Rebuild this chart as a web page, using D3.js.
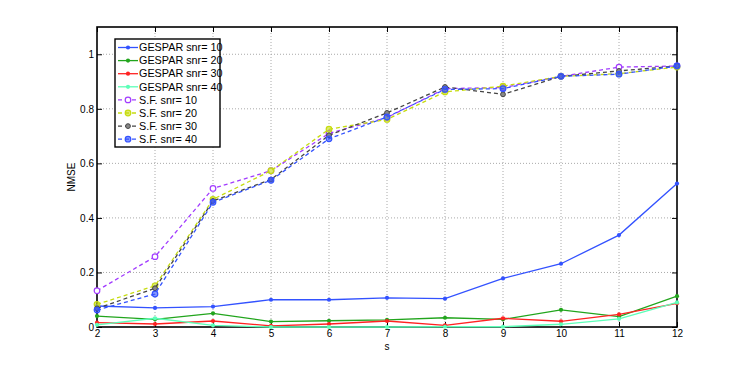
<!DOCTYPE html>
<html>
<head>
<meta charset="utf-8">
<script src="https://cdn.jsdelivr.net/npm/d3@7"></script>
<style>
body { margin: 0; background: #fff; }
text { font-family: "Liberation Sans", Arial, sans-serif; }
</style>
</head>
<body>
<script>
var sValues = [2, 3, 4, 5, 6, 7, 8, 9, 10, 11, 12];
var seriesNames = ["GESPAR snr= 10", "GESPAR snr= 20", "GESPAR snr= 30", "GESPAR snr= 40",
                   "S.F. snr= 10", "S.F. snr= 20", "S.F. snr= 30", "S.F. snr= 40"];
var gespar10 = [0.077, 0.070, 0.075, 0.100, 0.100, 0.107, 0.104, 0.178, 0.232, 0.337, 0.526];
var gespar20 = [0.040, 0.028, 0.050, 0.020, 0.023, 0.026, 0.034, 0.028, 0.063, 0.038, 0.113];
var gespar30 = [0.016, 0.011, 0.022, 0.004, 0.011, 0.022, 0.006, 0.032, 0.021, 0.046, 0.087];
var gespar40 = [0.008, 0.032, 0.006, 0.000, 0.000, 0.000, 0.001, 0.001, 0.010, 0.030, 0.090];
var sf10 = [0.133, 0.258, 0.508, 0.573, 0.710, 0.768, 0.874, 0.878, 0.919, 0.953, 0.957];
var sf20 = [0.083, 0.151, 0.468, 0.573, 0.725, 0.761, 0.862, 0.883, 0.919, 0.929, 0.953];
var sf30 = [0.068, 0.142, 0.462, 0.541, 0.703, 0.785, 0.880, 0.853, 0.919, 0.939, 0.957];
var sf40 = [0.062, 0.121, 0.457, 0.538, 0.690, 0.770, 0.871, 0.874, 0.919, 0.927, 0.957];
var yTicks = [0, 0.2, 0.4, 0.6, 0.8, 1];

var series = [
  {name: seriesNames[0], values: gespar10, color: "#3352ff", dash: null, marker: "dot"},
  {name: seriesNames[1], values: gespar20, color: "#22a51d", dash: null, marker: "dot"},
  {name: seriesNames[2], values: gespar30, color: "#ff2222", dash: null, marker: "dot"},
  {name: seriesNames[3], values: gespar40, color: "#5cffb8", dash: null, marker: "dot"},
  {name: seriesNames[4], values: sf10, color: "#a23cff", dash: "4,3", marker: "open"},
  {name: seriesNames[5], values: sf20, color: "#c6dc10", dash: "4,3", marker: "ring"},
  {name: seriesNames[6], values: sf30, color: "#444444", dash: "4,3", marker: "small"},
  {name: seriesNames[7], values: sf40, color: "#3352ff", dash: "4,3", marker: "ring"}
];

var margin = {top: 27, right: 70, bottom: 42, left: 97},
    width = 747 - margin.left - margin.right,
    height = 369 - margin.top - margin.bottom;

var x = d3.scaleLinear().domain([2, 12]).range([0, width]),
    y = d3.scaleLinear().domain([0, 1.1]).range([height, 0]);

var svg = d3.select("body").append("svg")
    .attr("width", 747)
    .attr("height", 369);
var g = svg.append("g").attr("transform", "translate(" + margin.left + "," + margin.top + ")");

// dotted grid
g.selectAll(".vgrid").data(sValues.slice(1, -1)).enter().append("line")
    .attr("x1", function(d) { return x(d); }).attr("x2", function(d) { return x(d); })
    .attr("y1", 0).attr("y2", height)
    .attr("stroke", "#aaa").attr("stroke-width", 1).attr("stroke-dasharray", "1,2");
g.selectAll(".hgrid").data(yTicks.slice(1)).enter().append("line")
    .attr("y1", function(d) { return y(d); }).attr("y2", function(d) { return y(d); })
    .attr("x1", 0).attr("x2", width)
    .attr("stroke", "#aaa").attr("stroke-width", 1).attr("stroke-dasharray", "1,2");

// axes with inward ticks
g.append("g").attr("transform", "translate(0," + height + ")")
    .call(d3.axisBottom(x).tickValues(sValues).tickFormat(d3.format("d")).tickSizeInner(-5).tickSizeOuter(0).tickPadding(3));
g.append("g")
    .call(d3.axisLeft(y).tickValues(yTicks).tickFormat(function(d) { return d === 0 || d === 1 ? d : d3.format(".1f")(d); }).tickSizeInner(-5).tickSizeOuter(0).tickPadding(3));
g.append("g")
    .call(d3.axisTop(x).tickValues(sValues).tickFormat("").tickSizeInner(-5).tickSizeOuter(0));
g.append("g").attr("transform", "translate(" + width + ",0)")
    .call(d3.axisRight(y).tickValues(yTicks).tickFormat("").tickSizeInner(-5).tickSizeOuter(0));
g.selectAll(".domain").remove();
g.selectAll(".tick line").attr("stroke", "#000");
g.selectAll(".tick text").style("font-size", "10px").attr("fill", "#000");

g.append("rect")
    .attr("width", width).attr("height", height)
    .attr("fill", "none").attr("stroke", "#000").attr("stroke-width", 1.6);

var line = d3.line()
    .x(function(d, i) { return x(sValues[i]); })
    .y(function(d) { return y(d); });

function drawMarker(sel, s, cx, cy) {
  if (s.marker === "dot") {
    sel.append("circle").attr("cx", cx).attr("cy", cy).attr("r", 2.1).attr("fill", s.color);
  } else if (s.marker === "open") {
    sel.append("circle").attr("cx", cx).attr("cy", cy).attr("r", 2.8)
      .attr("fill", "#fff").attr("stroke", s.color).attr("stroke-width", 1.2);
  } else if (s.marker === "ring") {
    sel.append("circle").attr("cx", cx).attr("cy", cy).attr("r", 2.8)
      .attr("fill", s.color).attr("fill-opacity", 0.6).attr("stroke", s.color).attr("stroke-width", 1.2);
  } else {
    sel.append("circle").attr("cx", cx).attr("cy", cy).attr("r", 2.4)
      .attr("fill", "#888").attr("stroke", s.color).attr("stroke-width", 1);
  }
}

series.forEach(function(s) {
  var sg = g.append("g");
  sg.append("path")
    .attr("d", line(s.values))
    .attr("fill", "none")
    .attr("stroke", s.color)
    .attr("stroke-width", 1.3)
    .attr("stroke-dasharray", s.dash);
  s.values.forEach(function(v, i) { drawMarker(sg, s, x(sValues[i]), y(v)); });
});

// axis labels
svg.append("text")
    .attr("x", margin.left + width / 2).attr("y", 350)
    .attr("text-anchor", "middle").style("font-size", "10px")
    .text("s");
svg.append("text")
    .attr("transform", "translate(75," + (margin.top + height / 2) + ") rotate(-90)")
    .attr("text-anchor", "middle").style("font-size", "10px")
    .text("NMSE");

// legend
var legend = svg.append("g").attr("transform", "translate(115,39)");
legend.append("rect")
    .attr("width", 105).attr("height", 108)
    .attr("fill", "#fff").attr("stroke", "#000").attr("stroke-width", 1.4);
series.forEach(function(s, i) {
  var ly = 8.5 + i * 13.1;
  var lg = legend.append("g");
  lg.append("line")
    .attr("x1", 3).attr("x2", 23).attr("y1", ly).attr("y2", ly)
    .attr("stroke", s.color).attr("stroke-width", 1.3)
    .attr("stroke-dasharray", s.dash);
  drawMarker(lg, s, 13, ly);
  lg.append("text")
    .attr("x", 24).attr("y", ly).attr("dy", "0.35em")
    .style("font-size", "10.8px")
    .text(s.name);
});
</script>
</body>
</html>
